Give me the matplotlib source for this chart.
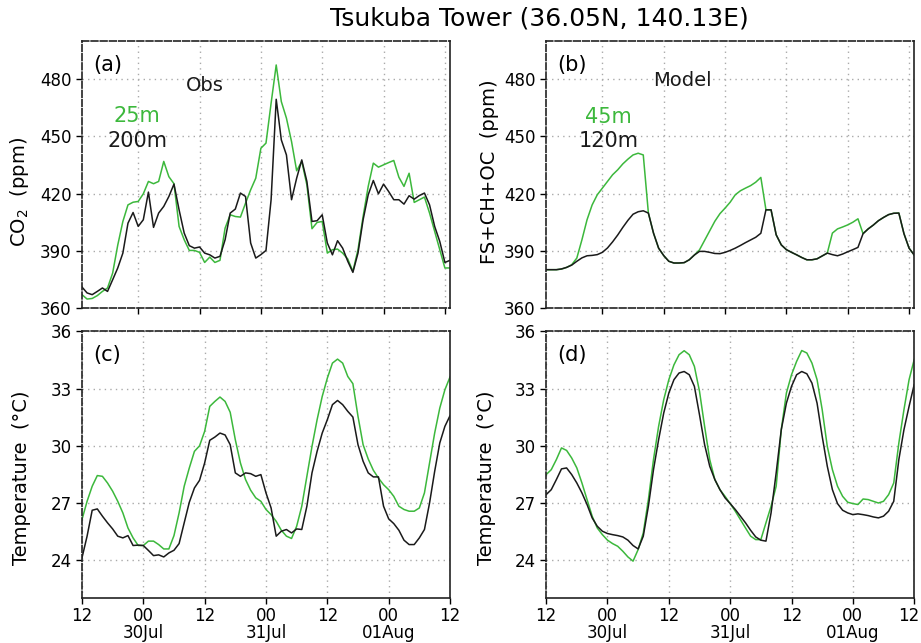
import matplotlib
matplotlib.use("Agg")
import matplotlib.pyplot as plt
from matplotlib.transforms import ScaledTranslation

# hours since 12Z 29Jul
hrs_obs = list(range(1, 74))
co2_25m = [367.0, 364.7, 365.0, 366.5, 368.7, 370.5, 378.3, 393.0, 405.4, 414.1,
           415.5, 415.9, 419.9, 426.4, 425.2, 426.4, 436.9, 428.9, 425.2, 402.8,
           395.8, 390.2, 390.2, 389.2, 383.9, 386.7, 383.9, 385.0, 401.9, 408.9,
           408.0, 407.7, 415.0, 422.0, 428.1, 443.8, 446.5, 467.4, 487.5, 468.3,
           459.6, 447.3, 432.0, 436.9, 424.6, 401.6, 404.9, 405.4, 388.8, 390.6,
           390.9, 388.8, 385.7, 379.2, 390.6, 408.0, 423.8, 436.0, 433.9, 435.1,
           436.3, 437.4, 428.6, 423.8, 430.7, 415.4, 416.8, 418.2, 409.8, 400.2,
           390.6, 381.0, 381.0]
co2_200m = [371.0, 367.9, 367.0, 368.7, 370.5, 368.7, 374.8, 381.0, 388.8, 404.5,
            410.1, 402.8, 406.3, 420.8, 402.3, 409.8, 413.3, 418.5, 425.0, 411.5,
            399.3, 392.7, 391.4, 392.0, 388.8, 387.9, 386.2, 387.1, 395.8, 409.8,
            411.9, 420.3, 418.5, 394.1, 386.2, 388.0, 390.2, 416.8, 469.5, 448.2,
            440.3, 416.8, 428.1, 437.7, 426.4, 405.4, 405.8, 408.9, 394.1, 387.9,
            395.3, 391.4, 384.5, 378.7, 388.8, 406.3, 419.4, 426.9, 419.9, 425.0,
            421.1, 416.8, 416.8, 414.5, 418.9, 417.1, 419.0, 420.3, 414.1, 402.8,
            394.9, 383.9, 385.0]

hrs_mod = list(range(1, 74))
co2_45m = [380.1, 380.1, 380.1, 380.4, 381.3, 382.7, 386.2, 395.8, 406.3, 414.1,
           419.4, 422.9, 426.4, 429.9, 432.5, 435.6, 438.1, 440.3, 441.2, 440.3,
           409.8, 399.3, 391.4, 387.5, 384.5, 383.6, 383.6, 383.8, 385.3, 387.8,
           390.5, 395.5, 400.5, 405.5, 409.5, 412.4, 415.5, 419.4, 421.5, 422.9,
           424.2, 426.0, 428.5, 411.5, 411.5, 398.4, 393.1, 390.6, 389.2, 387.9,
           386.5, 385.3, 385.3, 385.8, 387.3, 388.8, 399.3, 401.5, 402.5, 403.6,
           405.0, 406.8, 399.0, 401.5, 403.5, 405.8, 407.5, 409.0, 409.7, 409.8,
           399.0, 391.4, 387.8]
co2_120m = [380.1, 380.1, 380.1, 380.5, 381.3, 382.5, 384.5, 386.3, 387.4, 387.6,
            388.0, 389.2, 391.5, 394.7, 398.3, 402.3, 406.0, 409.2, 410.5, 411.0,
            409.8, 399.3, 391.4, 387.5, 384.5, 383.6, 383.6, 383.8, 385.3, 387.8,
            389.7, 389.7, 389.2, 388.6, 388.5, 389.2, 390.2, 391.4, 392.8, 394.3,
            395.7, 397.1, 399.2, 411.5, 411.5, 398.4, 393.1, 390.6, 389.2, 387.9,
            386.5, 385.3, 385.3, 385.8, 387.3, 388.8, 388.0, 387.4, 388.3, 389.5,
            390.6, 391.8, 399.0, 401.5, 403.5, 405.8, 407.5, 409.0, 409.7, 409.8,
            399.0, 391.4, 387.8]

hrs_t = list(range(0, 73))
t_obs_25m = [26.13, 27.09, 27.88, 28.44, 28.40, 28.05, 27.62, 27.09, 26.48, 25.69,
             25.17, 24.77, 24.77, 25.00, 25.00, 24.82, 24.59, 24.59, 25.29, 26.48,
             27.88, 28.84, 29.71, 30.00, 30.76, 32.07, 32.33, 32.56, 32.33, 31.76,
             30.32, 29.10, 28.23, 27.67, 27.27, 27.09, 26.66, 26.39, 26.04, 25.57,
             25.26, 25.14, 25.78, 26.83, 28.40, 29.97, 31.37, 32.59, 33.55, 34.34,
             34.55, 34.34, 33.64, 33.26, 31.55, 30.06, 29.31, 28.72, 28.31, 27.96,
             27.70, 27.35, 26.83, 26.66, 26.57, 26.57, 26.74, 27.53, 29.10, 30.67,
             31.98, 32.94, 33.61]
t_obs_200m = [24.12, 25.26, 26.62, 26.69, 26.31, 25.96, 25.64, 25.26, 25.17, 25.29,
              24.77, 24.79, 24.77, 24.51, 24.24, 24.28, 24.17, 24.38, 24.52, 24.87,
              25.96, 27.04, 27.79, 28.19, 29.10, 30.29, 30.46, 30.67, 30.57, 30.06,
              28.58, 28.40, 28.58, 28.54, 28.40, 28.49, 27.53, 26.74, 25.26, 25.52,
              25.61, 25.43, 25.64, 25.61, 26.83, 28.58, 29.71, 30.67, 31.37, 32.16,
              32.38, 32.16, 31.81, 31.51, 30.06, 29.19, 28.58, 28.37, 28.37, 26.83,
              26.17, 25.92, 25.57, 25.05, 24.82, 24.82, 25.17, 25.61, 27.00, 28.66,
              30.15, 31.02, 31.58]
t_mod_45m = [28.49, 28.75, 29.28, 29.89, 29.76, 29.36, 28.84, 28.05, 27.18, 26.31,
             25.69, 25.34, 25.05, 24.87, 24.73, 24.47, 24.17, 23.95, 24.56, 25.43,
             27.18, 29.28, 31.02, 32.42, 33.47, 34.25, 34.78, 34.99, 34.78, 34.17,
             32.86, 31.02, 29.28, 28.23, 27.70, 27.35, 26.97, 26.57, 26.13, 25.69,
             25.26, 25.08, 25.08, 25.96, 26.83, 27.88, 30.85, 32.77, 33.73, 34.43,
             35.00, 34.87, 34.34, 33.47, 31.90, 29.97, 28.75, 27.88, 27.35, 27.04,
             26.97, 26.92, 27.21, 27.18, 27.09, 27.00, 27.09, 27.44, 28.05, 30.15,
             31.90, 33.47, 34.52]
t_mod_120m = [27.44, 27.70, 28.23, 28.79, 28.84, 28.49, 28.05, 27.53, 26.92, 26.22,
              25.78, 25.52, 25.40, 25.34, 25.29, 25.22, 25.05, 24.77, 24.59, 25.26,
              26.83, 28.75, 30.32, 31.72, 32.77, 33.47, 33.82, 33.90, 33.73, 33.12,
              31.63, 30.06, 28.93, 28.23, 27.70, 27.27, 26.97, 26.66, 26.31, 25.96,
              25.57, 25.22, 25.05, 25.00, 26.48, 28.58, 30.85, 32.24, 33.12, 33.73,
              33.90, 33.78, 33.29, 32.24, 30.50, 28.93, 27.70, 26.97, 26.62, 26.48,
              26.39, 26.43, 26.39, 26.34, 26.27, 26.22, 26.31, 26.57, 27.09, 29.28,
              30.85, 32.07, 33.21]

xticks = [0, 12, 24, 36, 48, 60, 72]
xticklabels = ["12", "00\n30Jul", "12", "00\n31Jul", "12", "00\n01Aug", "12"]
co2_ticks = [360, 390, 420, 450, 480]
t_ticks = [24, 27, 30, 33, 36]

green = "#3cb83c"
dark = "#1a1a1a"

fig = plt.figure(figsize=(9.21, 6.43), dpi=100)
W, H = 0.3996, 0.4150
ax_a = fig.add_axes([0.089, 0.521, W, H])
ax_b = fig.add_axes([0.593, 0.521, W, H])
ax_c = fig.add_axes([0.089, 0.0695, W, H])
ax_d = fig.add_axes([0.593, 0.0695, W, H])


def style(ax, top):
    ax.set_xticks(xticks)
    ax.grid(True, color="#aaaaaa", linestyle=(0, (1, 3)), linewidth=1.0)
    ax.tick_params(direction="out", length=4, width=1, labelsize=12, colors="black")
    ax.tick_params(axis="x", pad=2)
    for side in ["left", "top"]:
        ax.spines[side].set_linestyle((0, (4, 1.5)))
    if top:
        ax.spines["bottom"].set_linestyle((0, (4, 1.5)))
        ax.set_xticklabels([])
        ax.set_xlim(1, 73)
        ax.set_ylim(360, 500)
        ax.set_yticks(co2_ticks)
    else:
        ax.set_xticklabels(xticklabels, fontsize=12, linespacing=0.95)
        ax.set_xlim(0, 72)
        ax.set_ylim(22, 36)
        ax.set_yticks(t_ticks)
    for s in ax.spines.values():
        s.set_linewidth(1.2)
        s.set_color("#222222")


for ax in [ax_a, ax_b]:
    style(ax, True)
for ax in [ax_c, ax_d]:
    style(ax, False)

# keep the last label of (d) inside the figure
last = ax_d.get_xticklabels()[-1]
last.set_transform(last.get_transform() + ScaledTranslation(-4 / 72, 0, fig.dpi_scale_trans))

ax_a.plot(hrs_obs, co2_25m, color=green, lw=1.1)
ax_a.plot(hrs_obs, co2_200m, color=dark, lw=1.1)
ax_b.plot(hrs_mod, co2_45m, color=green, lw=1.1)
ax_b.plot(hrs_mod, co2_120m, color=dark, lw=1.1)
ax_c.plot(hrs_t, t_obs_25m, color=green, lw=1.1)
ax_c.plot(hrs_t, t_obs_200m, color=dark, lw=1.1)
ax_d.plot(hrs_t, t_mod_45m, color=green, lw=1.1)
ax_d.plot(hrs_t, t_mod_120m, color=dark, lw=1.1)

ax_a.set_ylabel("CO$_2$  (ppm)", fontsize=14)
ax_a.yaxis.set_label_coords(-0.139, 0.436)
ax_b.set_ylabel("FS+CH+OC  (ppm)", fontsize=14)
ax_b.yaxis.set_label_coords(-0.128, 0.51)
ax_c.set_ylabel("Temperature  (°C)", fontsize=14)
ax_c.yaxis.set_label_coords(-0.139, 0.45)
ax_d.set_ylabel("Temperature  (°C)", fontsize=14)
ax_d.yaxis.set_label_coords(-0.136, 0.45)

for ax, lab in zip([ax_a, ax_b, ax_c, ax_d], ["(a)", "(b)", "(c)", "(d)"]):
    ax.text(0.03, 0.912, lab, transform=ax.transAxes, fontsize=15,
            ha="left", va="center")

ax_a.text(0.334, 0.835, "Obs", transform=ax_a.transAxes, fontsize=14,
          ha="center", va="center", color=dark)
ax_a.text(0.15, 0.72, "25m", transform=ax_a.transAxes, fontsize=15,
          ha="center", va="center", color=green)
ax_a.text(0.15, 0.625, "200m", transform=ax_a.transAxes, fontsize=15,
          ha="center", va="center", color=dark)
ax_b.text(0.37, 0.854, "Model", transform=ax_b.transAxes, fontsize=14,
          ha="center", va="center", color=dark)
ax_b.text(0.168, 0.715, "45m", transform=ax_b.transAxes, fontsize=15,
          ha="center", va="center", color=green)
ax_b.text(0.17, 0.627, "120m", transform=ax_b.transAxes, fontsize=15,
          ha="center", va="center", color=dark)

fig.text(0.586, 0.972, "Tsukuba Tower (36.05N, 140.13E)", fontsize=18,
         ha="center", va="center")

fig.savefig("out.png", dpi=100)
